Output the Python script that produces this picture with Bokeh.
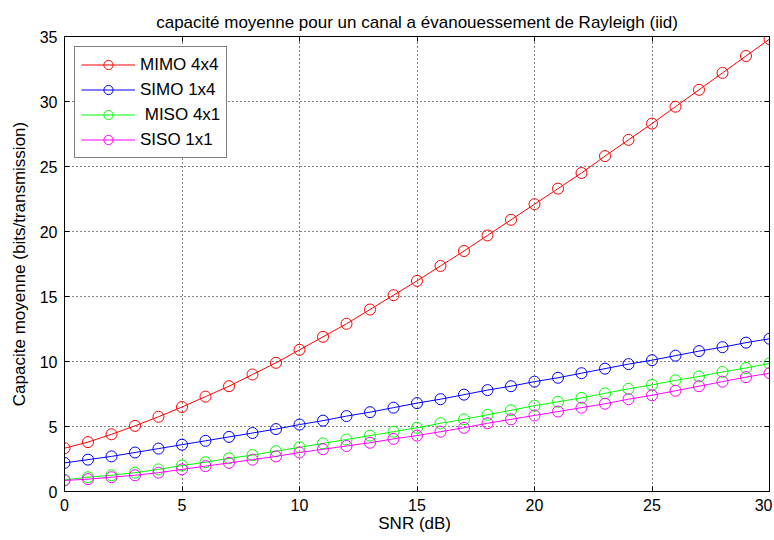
from bokeh.plotting import figure
from bokeh.models import LinearAxis, Range1d, FixedTicker, Legend, CustomJSTickFormatter
from bokeh.embed import file_html
from bokeh.resources import INLINE

snr = list(range(0, 31))
mimo = [3.33, 3.8, 4.4, 5.05, 5.75, 6.5, 7.3, 8.1, 9.0, 9.9, 10.9, 11.9, 12.9, 14.0, 15.1, 16.2,
        17.35, 18.5, 19.7, 20.9, 22.1, 23.3, 24.5, 25.8, 27.05, 28.3, 29.6, 30.9, 32.2, 33.5, 34.8]
simo = [2.2, 2.45, 2.7, 3.0, 3.3, 3.6, 3.9, 4.2, 4.5, 4.8, 5.15, 5.45, 5.8, 6.1, 6.45, 6.8,
        7.1, 7.45, 7.8, 8.1, 8.45, 8.75, 9.1, 9.45, 9.8, 10.1, 10.45, 10.8, 11.1, 11.45, 11.75]
miso = [0.9, 1.1, 1.25, 1.45, 1.7, 2.0, 2.25, 2.55, 2.8, 3.1, 3.4, 3.7, 4.0, 4.3, 4.6, 4.9,
        5.25, 5.55, 5.9, 6.25, 6.6, 6.9, 7.2, 7.55, 7.9, 8.2, 8.55, 8.85, 9.2, 9.5, 9.85]
siso = [0.85, 0.95, 1.1, 1.25, 1.45, 1.7, 1.95, 2.2, 2.45, 2.7, 3.0, 3.25, 3.5, 3.75, 4.05, 4.3,
        4.6, 4.9, 5.25, 5.55, 5.85, 6.15, 6.45, 6.75, 7.1, 7.4, 7.75, 8.1, 8.45, 8.8, 9.1]

series = [("MIMO 4x4", mimo, "#ff0000"),
          ("SIMO 1x4", simo, "#0000ff"),
          (" MISO 4x1", miso, "#00ff00"),
          ("SISO 1x1", siso, "#ff00ff")]

x_ticks = [0, 5, 10, 15, 20, 25, 30]
y_ticks = [0, 5, 10, 15, 20, 25, 30, 35]

FONT = "Liberation Sans"

p = figure(width=772, height=540, output_backend="svg", toolbar_location=None,
           x_range=Range1d(0, 30), y_range=Range1d(0, 35),
           title="capacité moyenne pour un canal a évanouessement de Rayleigh (iid)",
           min_border_left=64, min_border_right=3, min_border_bottom=49, min_border_top=36)

p.title.align = "center"
p.title.text_font = FONT
p.title.text_font_size = "17px"
p.title.text_font_style = "normal"
p.title.text_color = "#000000"
p.title.standoff = 10

p.outline_line_color = "#000000"
p.outline_line_width = 1
p.background_fill_color = "white"
p.border_fill_color = "white"

for ax in [p.xaxis[0], p.yaxis[0]]:
    ax.major_tick_in = 5
    ax.major_tick_out = 0
    ax.minor_tick_in = 0
    ax.minor_tick_out = 0
    ax.axis_line_color = "#000000"
    ax.major_tick_line_color = "#000000"
    ax.major_label_text_font = FONT
    ax.major_label_text_font_size = "16px"
    ax.major_label_text_color = "#000000"
    ax.axis_label_text_font = FONT
    ax.axis_label_text_font_size = "17px"
    ax.axis_label_text_font_style = "normal"
    ax.axis_label_text_color = "#000000"

p.xaxis[0].ticker = FixedTicker(ticks=x_ticks)
p.yaxis[0].ticker = FixedTicker(ticks=y_ticks)
p.xaxis[0].axis_label = "SNR  (dB)"
p.yaxis[0].axis_label = "Capacite moyenne (bits/transmission)"
p.xaxis[0].axis_label_standoff = 0
p.yaxis[0].axis_label_standoff = 8
p.xaxis[0].major_label_standoff = 7
p.yaxis[0].major_label_standoff = 7

top_ax = LinearAxis(ticker=FixedTicker(ticks=x_ticks), formatter=CustomJSTickFormatter(code="return '';"),
                    major_tick_in=5, major_tick_out=0, minor_tick_in=0, minor_tick_out=0,
                    axis_line_color="#000000", major_tick_line_color="#000000",
                    major_label_standoff=0)
right_ax = LinearAxis(ticker=FixedTicker(ticks=y_ticks), formatter=CustomJSTickFormatter(code="return '';"),
                      major_tick_in=5, major_tick_out=0, minor_tick_in=0, minor_tick_out=0,
                      axis_line_color="#000000", major_tick_line_color="#000000",
                      major_label_standoff=0)
p.add_layout(top_ax, "above")
p.add_layout(right_ax, "right")

p.xgrid.ticker = FixedTicker(ticks=x_ticks)
p.ygrid.ticker = FixedTicker(ticks=y_ticks)
for g in [p.xgrid[0], p.ygrid[0]]:
    g.grid_line_color = "#000000"
    g.grid_line_dash = "1 3"
    g.grid_line_width = 1
    g.grid_line_alpha = 1.0

items = []
for name, vals, col in series:
    l = p.line(snr, vals, line_color=col, line_width=1)
    c = p.scatter(snr, vals, marker="circle", size=11, fill_color=None, line_color=col, line_width=1)
    items.append((name, [l, c]))

legend = Legend(items=items, location="top_left")
legend.label_text_font = FONT
legend.label_text_font_size = "17px"
legend.label_text_color = "#000000"
legend.border_line_color = "#000000"
legend.border_line_width = 1
legend.background_fill_alpha = 1.0
legend.glyph_width = 54
legend.glyph_height = 23
legend.label_height = 23
legend.spacing = 2
legend.padding = 6
legend.margin = 10
legend.label_standoff = 5
p.add_layout(legend)

open("out.html", "w").write(file_html(p, INLINE))
